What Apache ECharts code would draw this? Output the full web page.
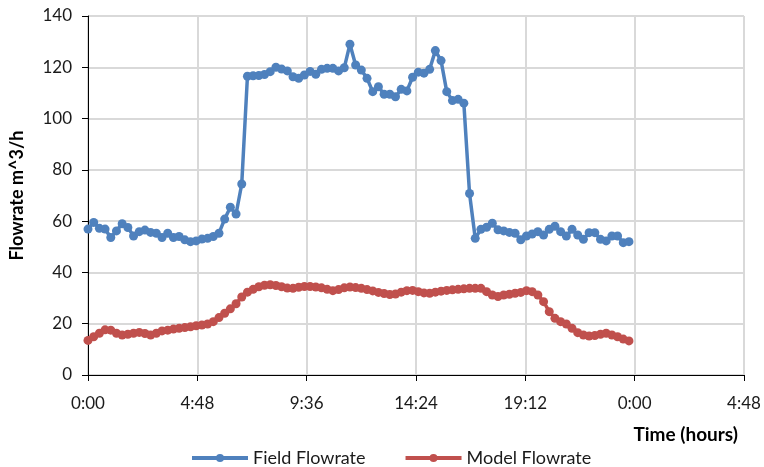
<!DOCTYPE html>
<html>
<head>
<meta charset="utf-8">
<script src="https://cdn.jsdelivr.net/npm/echarts@6/dist/echarts.min.js"></script>
<style>
  html, body { margin: 0; padding: 0; background: #fff; }
  #main { width: 764px; height: 467px; }
</style>
</head>
<body>
<div id="main"></div>
<script>
// time of day in minutes (15 min steps)
var times = [
  0, 15, 30, 45, 60, 75, 90, 105, 120, 135, 150, 165,
  180, 195, 210, 225, 240, 255, 270, 285, 300, 315, 330, 345,
  360, 375, 390, 405, 420, 435, 450, 465, 480, 495, 510, 525,
  540, 555, 570, 585, 600, 615, 630, 645, 660, 675, 690, 705,
  720, 735, 750, 765, 780, 795, 810, 825, 840, 855, 870, 885,
  900, 915, 930, 945, 960, 975, 990, 1005, 1020, 1035, 1050, 1065,
  1080, 1095, 1110, 1125, 1140, 1155, 1170, 1185, 1200, 1215, 1230, 1245,
  1260, 1275, 1290, 1305, 1320, 1335, 1350, 1365, 1380, 1395, 1410, 1425
];

var fieldFlow = [
  56.9, 59.5, 57.2, 56.9, 53.6, 56.2, 59.0, 57.5, 54.2, 55.9, 56.5, 55.6,
  55.3, 53.6, 55.3, 53.6, 54.0, 52.7, 52.0, 52.3, 53.0, 53.3, 54.0, 55.3,
  60.8, 65.4, 62.8, 74.5, 116.5, 116.7, 116.8, 117.2, 118.3, 120.0, 119.3, 118.6,
  116.3, 115.7, 117.0, 118.4, 117.3, 119.2, 119.6, 119.6, 118.6, 119.8, 129.0, 120.9,
  118.9, 115.7, 110.5, 112.4, 109.5, 109.5, 108.5, 111.4, 110.8, 116.1, 118.1, 117.7,
  119.2, 126.5, 122.6, 110.5, 107.0, 107.5, 106.0, 70.8, 53.3, 56.8, 57.6, 59.2,
  56.6, 56.2, 55.6, 55.3, 52.7, 54.2, 55.0, 55.9, 54.6, 56.8, 58.0, 55.9,
  54.2, 56.8, 54.6, 52.9, 55.5, 55.5, 52.9, 52.3, 54.2, 54.2, 51.6, 52.0
];

var modelFlow = [
  13.5, 14.9, 16.3, 17.6, 17.5, 16.3, 15.6, 15.9, 16.3, 16.6, 16.2, 15.6,
  16.3, 17.2, 17.5, 17.9, 18.2, 18.5, 18.8, 19.2, 19.5, 19.9, 20.8, 22.4,
  24.1, 25.8, 27.8, 30.4, 32.3, 33.4, 34.4, 35.0, 35.2, 34.9, 34.4, 33.9,
  33.8, 34.2, 34.5, 34.5, 34.3, 34.0, 33.4, 32.9, 33.3, 34.0, 34.3, 34.1,
  33.8, 33.3, 32.8, 32.2, 31.8, 31.4, 31.6, 32.3, 32.9, 33.0, 32.5, 32.0,
  31.9, 32.3, 32.7, 33.0, 33.2, 33.4, 33.6, 33.8, 33.8, 33.8, 32.5, 31.2,
  30.6, 31.2, 31.5, 31.9, 32.2, 32.9, 32.5, 31.2, 28.6, 24.7, 22.1, 20.8,
  19.9, 18.2, 16.5, 15.6, 15.2, 15.4, 15.9, 16.3, 15.6, 14.9, 14.0, 13.3
];

var xTickLabels = ['0:00', '4:48', '9:36', '14:24', '19:12', '0:00', '4:48'];

var fontFam = 'Lato, "Noto Sans", sans-serif';

function pairs(vals) {
  var out = [];
  for (var i = 0; i < vals.length; i++) {
    out.push([times[i], vals[i]]);
  }
  return out;
}

var chart = echarts.init(document.getElementById('main'), null, { renderer: 'canvas' });

var option = {
  backgroundColor: '#fff',
  animation: false,
  color: ['#4F81BD', '#C0504D'],
  title: {
    text: 'Time (hours)',
    right: 21,
    top: 420,
    textStyle: { fontFamily: fontFam, fontWeight: 'bold', fontSize: 19, color: '#000' }
  },
  legend: {
    left: 185,
    top: 444,
    itemWidth: 56,
    itemHeight: 10,
    itemGap: 38,
    lineStyle: { width: 4 },
    textStyle: { fontFamily: fontFam, fontSize: 18, color: '#1a1a1a' },
    data: ['Field Flowrate', 'Model Flowrate']
  },
  grid: {
    left: 88,
    right: 20,
    top: 16,
    bottom: 92,
    containLabel: false
  },
  xAxis: {
    type: 'value',
    min: 0,
    max: 1728,
    interval: 288,
    axisLine: { show: true, onZero: false, lineStyle: { color: '#000', width: 1 } },
    axisTick: { show: true, inside: false, length: 6, lineStyle: { color: '#000' } },
    axisLabel: {
      margin: 20,
      fontFamily: fontFam,
      fontSize: 17,
      color: '#1a1a1a',
      formatter: function (v) {
        return xTickLabels[Math.round(v / 288)];
      }
    },
    splitLine: { show: true, lineStyle: { color: '#d9d9d9', width: 2 } }
  },
  yAxis: {
    type: 'value',
    min: 0,
    max: 140,
    interval: 20,
    name: 'Flowrate m^3/h',
    nameLocation: 'middle',
    nameGap: 62,
    nameRotate: 90,
    nameTextStyle: { fontFamily: fontFam, fontWeight: 'bold', fontSize: 18, color: '#000' },
    axisLine: { show: true, lineStyle: { color: '#000', width: 1 } },
    axisTick: { show: true, inside: false, length: 6, lineStyle: { color: '#000' } },
    axisLabel: { margin: 16, fontFamily: fontFam, fontSize: 17, color: '#1a1a1a' },
    splitLine: { show: true, lineStyle: { color: '#d9d9d9', width: 2 } }
  },
  series: [
    {
      name: 'Field Flowrate',
      type: 'line',
      data: pairs(fieldFlow),
      symbol: 'circle',
      symbolSize: 9,
      lineStyle: { width: 3.5 },
      z: 3
    },
    {
      name: 'Model Flowrate',
      type: 'line',
      data: pairs(modelFlow),
      symbol: 'circle',
      symbolSize: 9,
      lineStyle: { width: 3.5 },
      z: 2
    }
  ]
};

chart.setOption(option);
</script>
</body>
</html>
